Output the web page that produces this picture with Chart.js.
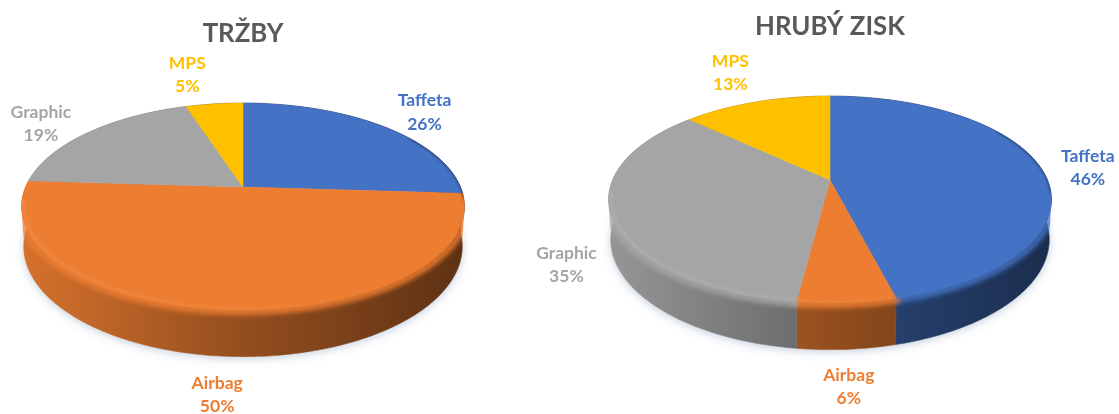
<!DOCTYPE html>
<html>
<head>
<meta charset="utf-8">
<title>Tržby a hrubý zisk</title>
<script src="https://cdn.jsdelivr.net/npm/chart.js@4"></script>
<style>
    html, body { margin: 0; padding: 0; background: #fff; overflow: hidden; }
    body { position: relative; width: 1119px; height: 414px; }
    canvas { position: absolute; top: 0; }
    #trzbyChart { left: 0; }
    #ziskChart { left: 530px; }
</style>
</head>
<body>
<canvas id="trzbyChart" width="486" height="414"></canvas>
<canvas id="ziskChart" width="600" height="414"></canvas>
<script>
const categories = ['Taffeta', 'Airbag', 'Graphic', 'MPS'];
const trzbyValues = [26, 50, 19, 5];
const ziskValues = [46, 6, 35, 13];
const sliceColors = ['#4472C4', '#ED7D31', '#A5A5A5', '#FFC000'];

// shifts of each label from the middle of its slice rim
const trzbyNudges = [[41, -14], [-9, 85], [-48, -8], [-27, -29]];
const ziskNudges = [[47, 0], [2, 84], [-45, 49], [-26, -29]];

// perspective of the tilted disc
const radius = 217.5;
const squash = 99.8;
const persp = 0.188;
const depth = 40;
const baseScaleX = 0.99;
const baseScaleY = 1.065;

function shade(hex, f) {
    const n = parseInt(hex.slice(1), 16);
    const ch = [n >> 16, (n >> 8) & 255, n & 255].map(c => {
        const v = f <= 1 ? c * f : c + (255 - c) * (f - 1);
        return Math.round(v);
    });
    return `rgb(${ch[0]},${ch[1]},${ch[2]})`;
}

// point on the top rim, t is measured clockwise from 12 o'clock
function topRim(cx, cy, t, k = 1) {
    const d = 1 + persp * Math.cos(t) * k;
    return [cx + k * radius * Math.sin(t) / d, cy - k * squash * Math.cos(t) / d];
}

function baseRim(cx, cy, t) {
    const p = topRim(cx, cy, t);
    const midY = cy + 19.5;
    return [cx + (p[0] - cx) * baseScaleX, midY + depth + (p[1] - midY) * baseScaleY];
}

function traceRange(ctx, fn, from, to, first) {
    const steps = Math.max(2, Math.ceil(Math.abs(to - from) / 0.02));
    for (let i = 0; i <= steps; i++) {
        const p = fn(from + (to - from) * i / steps);
        if (i === 0 && first) ctx.moveTo(p[0], p[1]);
        else ctx.lineTo(p[0], p[1]);
    }
}

// stroke part of a rim, softened, limited to the angles of one slice
function softEdge(ctx, cx, cy, s, lo, hi, k, width, blur, style) {
    const from = Math.max(s.from, lo);
    const to = Math.min(s.to, hi);
    if (to <= from) return;
    ctx.save();
    ctx.filter = `blur(${blur}px)`;
    ctx.strokeStyle = style;
    ctx.lineWidth = width;
    ctx.lineCap = 'round';
    ctx.beginPath();
    traceRange(ctx, t => topRim(cx, cy, t, k), from, to, true);
    ctx.stroke();
    ctx.restore();
}

const disc3d = {
    id: 'disc3d',
    beforeDatasetsDraw(chart, args, opts) {
        const ctx = chart.ctx;
        const arcs = chart.getDatasetMeta(0).data;
        const cx = arcs[0].x;
        const cy = opts.centerY;
        const slices = arcs.map((arc, i) => ({
            from: arc.startAngle + Math.PI / 2,
            to: arc.endAngle + Math.PI / 2,
            color: arc.options.backgroundColor,
            i: i
        }));

        // soft shadow under the disc
        ctx.save();
        ctx.shadowColor = 'rgba(90,120,160,0.35)';
        ctx.shadowBlur = 10;
        ctx.shadowOffsetY = 2;
        ctx.fillStyle = '#fff';
        ctx.beginPath();
        traceRange(ctx, t => baseRim(cx, cy, t), 0, Math.PI * 2, true);
        ctx.closePath();
        ctx.fill();
        ctx.restore();

        // side wall
        slices.forEach(s => {
            const g = ctx.createLinearGradient(cx - radius, 0, cx + radius, 0);
            g.addColorStop(0, shade(s.color, 0.9));
            g.addColorStop(0.5, shade(s.color, 0.62));
            g.addColorStop(1, shade(s.color, 0.4));
            ctx.fillStyle = g;
            ctx.strokeStyle = g;
            ctx.lineWidth = 0.6;
            ctx.beginPath();
            traceRange(ctx, t => topRim(cx, cy, t), s.from, s.to, true);
            traceRange(ctx, t => baseRim(cx, cy, t), s.to, s.from, false);
            ctx.closePath();
            ctx.fill();
            ctx.stroke();
        });

        // everything soft stays inside the outline of the disc
        ctx.save();
        ctx.beginPath();
        traceRange(ctx, t => topRim(cx, cy, t), -Math.PI * 0.56, Math.PI * 0.56, true);
        traceRange(ctx, t => baseRim(cx, cy, t), Math.PI * 0.56, Math.PI * 1.44, false);
        ctx.closePath();
        ctx.clip();

        // rounded shoulder between wall and top face
        slices.forEach(s => {
            softEdge(ctx, cx, cy, s, Math.PI * 0.5, Math.PI * 1.5, 1.012, 6, 2.6, s.color);
        });

        // top face
        slices.forEach(s => {
            ctx.fillStyle = s.color;
            ctx.strokeStyle = s.color;
            ctx.lineWidth = 0.5;
            ctx.beginPath();
            ctx.moveTo(cx, cy);
            traceRange(ctx, t => topRim(cx, cy, t), s.from, s.to, false);
            ctx.closePath();
            ctx.fill();
            ctx.stroke();
        });

        // highlight on the front edge, dark edge at the far right
        slices.forEach(s => {
            const g = ctx.createLinearGradient(cx - radius, 0, cx + radius, 0);
            g.addColorStop(0, shade(s.color, 1.1));
            g.addColorStop(0.5, shade(s.color, 1.05));
            g.addColorStop(0.72, s.color);
            g.addColorStop(1, s.color);
            softEdge(ctx, cx, cy, s, Math.PI * 0.62, Math.PI * 1.46, 0.99, 3, 1.6, g);
            softEdge(ctx, cx, cy, s, Math.PI * 0.32, Math.PI * 0.54, 1, 1.6, 0.9, shade(s.color, 0.55));
        });
        ctx.restore();

        // labels
        ctx.font = 'bold 17.5px Lato';
        ctx.textAlign = 'center';
        ctx.textBaseline = 'middle';
        slices.forEach(s => {
            const p = topRim(cx, cy, (s.from + s.to) / 2);
            const x = p[0] + opts.nudges[s.i][0];
            const y = p[1] + opts.nudges[s.i][1];
            ctx.fillStyle = s.color;
            ctx.fillText(chart.data.labels[s.i], x, y - 11.7);
            ctx.fillText(chart.data.datasets[0].data[s.i] + '%', x, y + 11.7);
        });
        return false;
    }
};

function makePie(id, titleText, titleTop, values, centerY, nudges) {
    const ctx = document.getElementById(id).getContext('2d');
    return new Chart(ctx, {
        type: 'pie',
        data: {
            labels: categories,
            datasets: [{ data: values, backgroundColor: sliceColors, borderWidth: 0 }]
        },
        options: {
            responsive: false,
            animation: false,
            layout: { padding: 0 },
            plugins: {
                legend: { display: false },
                tooltip: { enabled: false },
                title: {
                    display: true,
                    text: titleText,
                    color: '#595959',
                    font: { family: 'Lato', size: 25.8, weight: 'bold' },
                    padding: { top: titleTop, bottom: 4 }
                },
                disc3d: { centerY: centerY, nudges: nudges }
            }
        },
        plugins: [disc3d]
    });
}

makePie('trzbyChart', 'TRŽBY', 18, trzbyValues, 187, trzbyNudges);
makePie('ziskChart', 'HRUBÝ ZISK', 11, ziskValues, 180, ziskNudges);
</script>
</body>
</html>
